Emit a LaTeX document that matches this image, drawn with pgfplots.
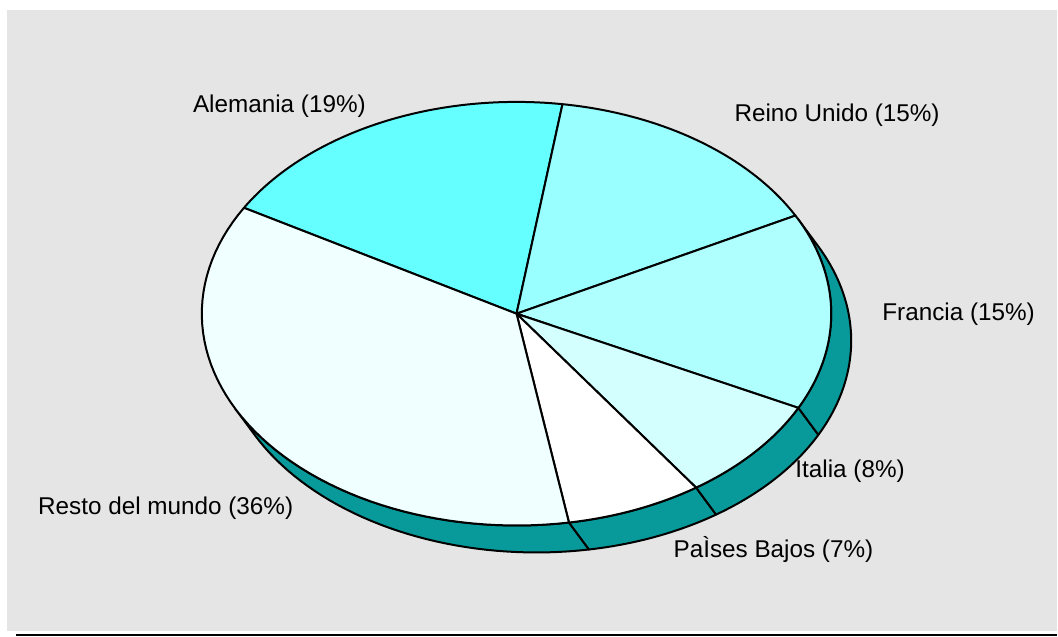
\documentclass[border=0pt]{standalone}
\usepackage{fontspec}
\setmainfont{Liberation Sans}
\usepackage{pgfplots}
\pgfplotsset{compat=1.18}
\usepgfplotslibrary{fillbetween}
\tikzset{fill between/on layer=main}

\definecolor{bg}{RGB}{229,229,229}
\definecolor{cAle}{HTML}{66FFFF}
\definecolor{cRei}{HTML}{99FFFF}
\definecolor{cFra}{HTML}{B0FFFF}
\definecolor{cIta}{HTML}{D4FFFF}
\definecolor{cPai}{HTML}{FFFFFF}
\definecolor{cRes}{HTML}{F0FFFF}
\definecolor{side}{HTML}{089A9A}

% shares in percent, clockwise from Alemania
\def\pAle{19}\def\pRei{15}\def\pFra{15}\def\pIta{8}\def\pPai{7}\def\pRes{36}
% pie geometry in pixels (y grows downwards)
\def\cx{517}\def\cy{314}\def\rx{315}\def\ry{212}\def\dx{20}\def\dy{27}

\pgfmathsetmacro\aA{150}
\pgfmathsetmacro\aB{\aA-3.6*\pAle}
\pgfmathsetmacro\aC{\aB-3.6*\pRei}
\pgfmathsetmacro\aD{\aC-3.6*\pFra}
\pgfmathsetmacro\aE{\aD-3.6*\pIta}
\pgfmathsetmacro\aF{\aE-3.6*\pPai}
\pgfmathsetmacro\aG{\aF-3.6*\pRes}
\pgfmathsetmacro\tR{atan(\ry*\dx/(\rx*\dy))}
\pgfmathsetmacro\tL{\tR-180}

\newcommand\pieslice[3]{%
  \addplot[fill=#1, draw=black, line width=2pt, line join=round,
    domain=#2:#3, samples=60, variable=\t]
    ({\cx+\rx*cos(\t)}, {\cy-\ry*sin(\t)}) -- (\cx,\cy) -- cycle;}
\newcommand\pieside[3]{%
  \addplot[name path=top#1, draw=none, domain=#2:#3, samples=40, variable=\t]
    ({\cx+\rx*cos(\t)}, {\cy-\ry*sin(\t)});
  \addplot[name path=bot#1, draw=none, domain=#2:#3, samples=40, variable=\t]
    ({\cx+\dx+\rx*cos(\t)}, {\cy+\dy-\ry*sin(\t)});
  \addplot[fill=side, draw=black, line width=2pt, line join=round]
    fill between[of=top#1 and bot#1];}

\begin{document}%
\begin{tikzpicture}
\begin{axis}[
  scale only axis,
  width=1058pt, height=637pt,
  xmin=0, xmax=1058, ymin=0, ymax=637,
  y dir=reverse,
  hide axis,
  clip=false,
]
% page and chart area
\addplot[fill=white, draw=none] coordinates {(0,0)(1058,0)(1058,637)(0,637)} -- cycle;
\addplot[fill=bg, draw=none] coordinates {(7,10)(1058,10)(1058,632)(7,632)} -- cycle;
\addplot[draw=black, line width=2pt] coordinates {(16,636)(1058,636)};

% sides of the slab
\pieside{res}{\tL}{\aF}
\pieside{pai}{\aF}{\aE}
\pieside{ita}{\aE}{\aD}
\pieside{fra}{\aD}{\tR}

% top faces
\pieslice{cAle}{\aB}{\aA}
\pieslice{cRei}{\aC}{\aB}
\pieslice{cFra}{\aD}{\aC}
\pieslice{cIta}{\aE}{\aD}
\pieslice{cPai}{\aF}{\aE}
\pieslice{cRes}{\aG}{\aF}

\begin{scope}[every node/.style={anchor=base west, inner sep=0pt,
    font=\fontsize{24.3}{28}\selectfont, text=black}]
\node at (193,113) {Alemania (19\%)};
\node at (735,122) {Reino Unido (15\%)};
\node at (883,321) {Francia (15\%)};
\node at (796,478) {Italia (8\%)};
\node at (674,558) {PaÌses Bajos (7\%)};
\node at (38,515) {Resto del mundo (36\%)};
\end{scope}
\end{axis}
\end{tikzpicture}%
\end{document}
